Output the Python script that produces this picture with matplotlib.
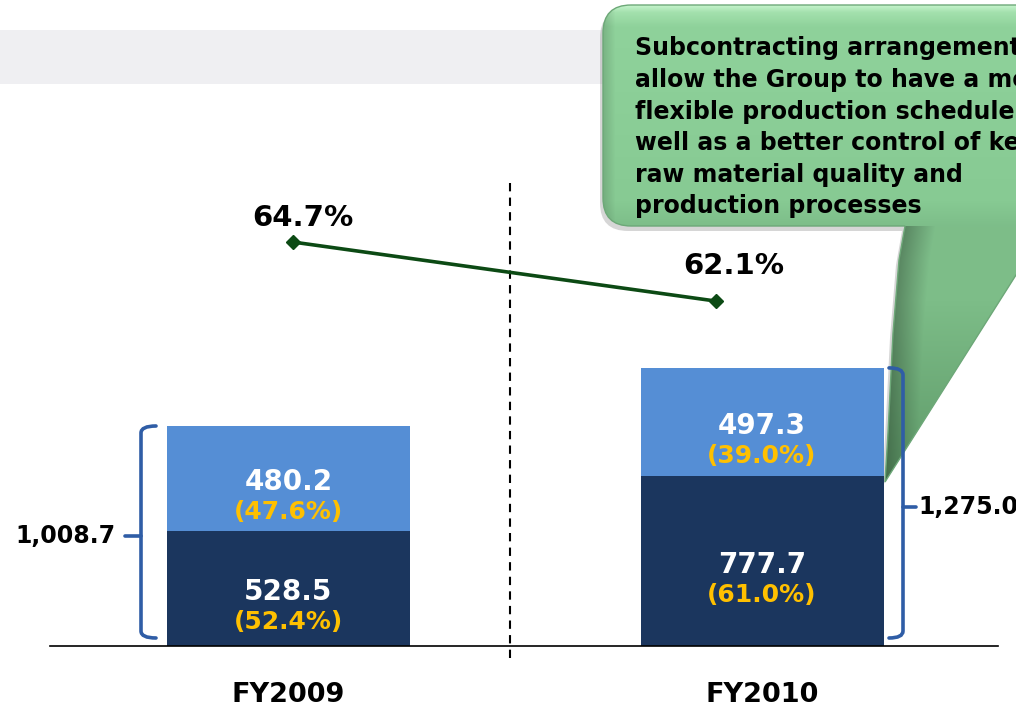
"""
Production cost split FY2009 vs FY2010 with subcontracting callout
"""

import numpy as np
import matplotlib
matplotlib.use('Agg')
import matplotlib.pyplot as plt
from matplotlib.path import Path
from matplotlib.patches import PathPatch, Rectangle
from matplotlib.colors import to_rgb
import matplotlib.transforms as mtransforms

plt.rcParams['font.family'] = ['DejaVu Sans']
plt.rcParams['font.weight'] = 'bold'

# data
categories = ['FY2009', 'FY2010']
in_house = [528.5, 777.7]
in_house_pct = [52.4, 61.0]
outsourced = [480.2, 497.3]
outsourced_pct = [47.6, 39.0]
totals = [1008.7, 1275.0]
margin_pct = [64.7, 62.1]
callout_lines = [
    'Subcontracting arrangements',
    'allow the Group to have a more',
    'flexible production schedule as',
    'well as a better control of key',
    'raw material quality and',
    'production processes',
]

# colours
DARK = '#1b365e'
LIGHT = '#558ed5'
YELLOW = '#ffc000'
BRACE = '#2f5da6'
GREEN_LINE = '#0c4a14'

# layout (pixels)
W, H = 1016, 711
BASE_PX = 646
PX_PER_UNIT = 220 / 1008.7
bar_x = [288.5, 762]
bar_w = 243
line_x = [293, 716]
label_offsets = [(10, 24), (18, 35)]

fig = plt.figure(figsize=(W / 100, H / 100), dpi=100)

# overlay in pixel coords (y down) for decoration
ov = fig.add_axes([0, 0, 1, 1])
ov.set_xlim(0, W)
ov.set_ylim(H, 0)
ov.axis('off')
ov.set_zorder(0)

# main axes for bars, data units
ax = fig.add_axes([0, (H - BASE_PX) / H, 1, BASE_PX / H])
ax.set_xlim(0, W)
ax.set_ylim(0, BASE_PX / PX_PER_UNIT)
ax.axis('off')
ax.set_zorder(1)
ax.patch.set_alpha(0)

# grey band at top
ov.add_patch(Rectangle((0, 30), W, 54, facecolor='#efeff2', edgecolor='none', zorder=0))

# dashed divider
ov.plot([510, 510], [183, 661], color='black', lw=1.5, dashes=(4, 3), zorder=1)

# callout shape
r = 28
verts = [(603 + r, 5), (1070, 5), (1070, 226), (1047, 226), (885, 482),
         (888, 433), (893, 333), (899, 260), (905, 226),
         (603 + r, 226), (603, 226), (603, 226 - r),
         (603, 5 + r), (603, 5), (603 + r, 5), (603 + r, 5)]
codes = [Path.MOVETO, Path.LINETO, Path.LINETO, Path.LINETO, Path.LINETO,
         Path.LINETO, Path.LINETO, Path.LINETO, Path.LINETO,
         Path.LINETO, Path.CURVE3, Path.CURVE3,
         Path.LINETO, Path.CURVE3, Path.CURVE3, Path.CLOSEPOLY]
callout_path = Path(verts, codes)

shadow = PathPatch(callout_path, facecolor='#7a7a7a', edgecolor='none', alpha=0.3, zorder=2,
                   transform=mtransforms.Affine2D().translate(-3, 5) + ov.transData)
ov.add_patch(shadow)
callout = PathPatch(callout_path, facecolor='none', edgecolor='#6da878', lw=1, zorder=4)
ov.add_patch(callout)

# gradient fill clipped to the callout
gy = np.arange(0, 490)
gx = np.arange(600, 1060)
ykeys = [0, 5, 12, 26, 200, 226, 300, 480, 490]
ckeys = ['#d0fad6', '#c4f3cb', '#a3e0ad', '#8fd29b', '#87ca93', '#7dbd89', '#7dbd88', '#5e9968', '#5e9968']
rgb = np.array([to_rgb(c) for c in ckeys])
prof = np.stack([np.interp(gy, ykeys, rgb[:, k]) for k in range(3)], axis=-1)
img = np.repeat(prof[:, None, :], len(gx), axis=1)
# darker left edge of box and pointer
left_edge = np.where(gy < 226, 603, np.interp(gy, [226, 260, 333, 433, 482], [905, 899, 893, 888, 885]))
dist = gx[None, :] - left_edge[:, None]
shade = np.where(gy[:, None] < 226, 0.86 + 0.14 * np.clip(dist / 12, 0, 1),
                 0.72 + 0.28 * np.clip(dist / 30, 0, 1))
img = img * shade[:, :, None]
im = ov.imshow(img, extent=(600, 1060, 490, 0), origin='upper', aspect='auto', zorder=3)
im.set_clip_path(PathPatch(callout_path, transform=ov.transData))
ov.set_xlim(0, W)
ov.set_ylim(H, 0)

baselines = [55, 87, 119, 150, 182, 213]
for txt, yb in zip(callout_lines, baselines):
    ov.text(635, yb, txt, fontsize=17, fontweight='bold', color='black',
            ha='left', va='baseline', zorder=5)

# baseline
ax.plot([50, 998], [0, 0], color='black', lw=1.2, clip_on=False, zorder=3)

# stacked bars
ax.bar(bar_x, in_house, width=bar_w, color=DARK, edgecolor='none', zorder=2)
ax.bar(bar_x, outsourced, width=bar_w, bottom=in_house, color=LIGHT, edgecolor='none', zorder=2)

for i in range(len(categories)):
    segs = [(0, in_house[i], in_house_pct[i]), (in_house[i], outsourced[i], outsourced_pct[i])]
    for bottom, val, pct in segs:
        mid = bottom + val / 2
        ax.annotate(f'{val:.1f}', xy=(bar_x[i], mid), xytext=(0, -4), textcoords='offset pixels',
                    ha='center', va='center', fontsize=20, fontweight='bold', color='white', zorder=4)
        ax.annotate(f'({pct:.1f}%)', xy=(bar_x[i], mid), xytext=(0, -34), textcoords='offset pixels',
                    ha='center', va='center', fontsize=18, fontweight='bold', color=YELLOW, zorder=4)
    ax.text(bar_x[i], -49 / PX_PER_UNIT, categories[i], ha='center', va='center',
            fontsize=19.5, fontweight='bold', color='black', clip_on=False)


# braces with totals
def draw_brace(x_vert, x_hook, x_tip, top, bottom):
    rr = 7 / PX_PER_UNIT
    p = Path([(x_hook, top), (x_vert, top), (x_vert, top - rr),
              (x_vert, bottom + rr), (x_vert, bottom), (x_hook, bottom)],
             [Path.MOVETO, Path.CURVE3, Path.CURVE3, Path.LINETO, Path.CURVE3, Path.CURVE3])
    ax.add_patch(PathPatch(p, facecolor='none', edgecolor=BRACE, lw=2.6, capstyle='round', zorder=5))
    mid = top / 2
    ax.plot([x_vert, x_tip], [mid, mid], color=BRACE, lw=2.6, solid_capstyle='round', zorder=5)


bottom_gap = 8 / PX_PER_UNIT
draw_brace(141, 156, 125, totals[0], bottom_gap)
draw_brace(903, 889, 916, totals[1], bottom_gap)
ax.text(116, totals[0] / 2, f'{totals[0]:,.1f}', ha='right', va='center',
        fontsize=17, fontweight='bold', color='black')
ax.text(918, totals[1] / 2, f'{totals[1]:,.1f}', ha='left', va='center',
        fontsize=17, fontweight='bold', color='black', clip_on=False)

# margin line on its own scale
ax2 = ax.twinx()
ax2.set_ylim(46.91, 75.36)
ax2.axis('off')
ax2.set_zorder(2)
ax2.patch.set_alpha(0)
ax2.plot(line_x, margin_pct, color=GREEN_LINE, lw=2.6, marker='D', markersize=7,
         markerfacecolor=GREEN_LINE, markeredgecolor=GREEN_LINE)
for x, v, (dx, dy) in zip(line_x, margin_pct, label_offsets):
    ax2.annotate(f'{v:.1f}%', xy=(x, v), xytext=(dx, dy), textcoords='offset pixels',
                 ha='center', va='center', fontsize=21, fontweight='bold', color='black')

fig.savefig('out.png', dpi=100)
